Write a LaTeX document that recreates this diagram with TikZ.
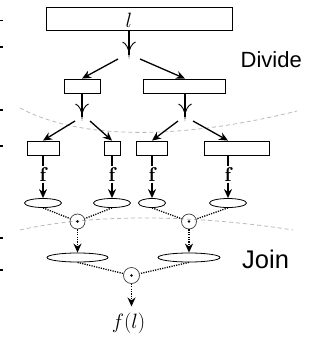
\documentclass[tikz,border=0pt]{standalone}
\usepackage{fontspec}
\newfontfamily\lsans{Liberation Sans}
\usetikzlibrary{arrows.meta,shapes.geometric,calc}
\begin{document}
\begin{tikzpicture}[x=1pt,y=-1pt,
  box/.style={draw, rectangle, line width=0.8pt, minimum height=14pt, inner sep=0pt},
  ell/.style={draw, ellipse, line width=0.8pt, minimum height=9pt, inner sep=0pt},
  joiner/.style={draw=black!75, circle, line width=0.7pt, minimum size=15pt, inner sep=0pt},
  conn/.style={line width=1.3pt, -{Stealth[length=9pt,width=8pt]}},
  stemline/.style={line width=1.2pt},
  dots/.style={line width=1.3pt, dash pattern=on 1.2pt off 1.2pt},
  dotarrow/.style={dots, -{Stealth[length=9pt,width=8pt]}},
  region/.style={gray!55, line width=0.8pt, dash pattern=on 4pt off 3pt},
  mathlab/.style={font=\fontsize{20}{24}\selectfont, inner sep=1pt},
  splitter/.pic={\draw[line width=0.9pt] (-6.5,-13) .. controls (-3,-11.5) and (0,-7) .. (0,0) .. controls (0,-7) and (3,-11.5) .. (6.5,-13);},
  tick/.style={line width=1.1pt}
]
\useasboundingbox (0,0) rectangle (320,337);

% region separators
\draw[region] (20,108) .. controls (80,140) and (180,140) .. (297,111);
\draw[region] (20,230) .. controls (90,214) and (190,214) .. (293,230);

% left edge marks
\foreach \yy in {20.5,47,110,146,238,270} \draw[tick] (0,\yy) -- (2.5,\yy);

% labels
\node[anchor=base west, font=\lsans\fontsize{22}{26}\selectfont, inner sep=0pt] (DV) at (240.5,67) {Divide};
\node[anchor=base west, font=\lsans\fontsize{25.5}{30}\selectfont, inner sep=0pt] (JN) at (242,268) {Join};

% top box
\node[box, minimum width=186pt, minimum height=22.5pt] (B0) at (139,18.75) {};
\node[mathlab] (L) at (129,20) {$l$};
\coordinate (V0) at (129,55);
\draw[stemline] (B0.south -| V0) -- (V0);
\pic at (V0) {splitter};

% level 2
\node[box, minimum width=36pt] (B1) at (82,86) {};
\node[box, minimum width=82pt] (B2) at (184,86) {};
\draw[conn] ($(V0)+(-11,4)$) -- (B1.north);
\draw[conn] ($(V0)+(11,4)$) -- ($(B2.north)+(1,0)$);

\coordinate (V1) at (82,117);
\coordinate (V2) at (185,117);
\draw[stemline] (B1.south -| V1) -- (V1);
\draw[stemline] (B2.south -| V2) -- (V2);
\pic at (V1) {splitter};
\pic at (V2) {splitter};

% level 3
\node[box, minimum width=32pt] (B3a) at (43,148) {};
\node[box, minimum width=16pt] (B3b) at (112,148) {};
\node[box, minimum width=31pt] (B3c) at (152,148) {};
\node[box, minimum width=65pt] (B3d) at (236.5,148) {};

\node[mathlab] (F1) at (43,174.5) {$\mathbf{f}$};
\node[mathlab] (F2) at (112,174.5) {$\mathbf{f}$};
\node[mathlab] (F3) at (152,174.5) {$\mathbf{f}$};
\node[mathlab] (F4) at (228,174.5) {$\mathbf{f}$};

\draw[conn] ($(V1)+(-7,4)$) -- (B3a.north);
\draw[conn] ($(V1)+(8,4)$) -- (B3b.north);
\draw[conn] ($(V2)+(-7,4)$) -- (B3c.north);
\draw[conn] ($(V2)+(8,4)$) -- (B3d.north -| F4);

\foreach \b/\f in {B3a/F1,B3b/F2,B3c/F3,B3d/F4}
  \draw[stemline] (\b.south -| \f) -- (\f.north);

% results
\node[ell, minimum width=37pt] (E1) at (43,203) {};
\node[ell, minimum width=37pt] (E2) at (112,203) {};
\node[ell, minimum width=27pt] (E3) at (152,203) {};
\node[ell, minimum width=37pt] (E4) at (228,203) {};
\foreach \f/\e in {F1/E1,F2/E2,F3/E3,F4/E4}
  \draw[conn] (\f.south) -- (\e.north);

% joins
\node[joiner] (C1) at (77.5,221.5) {};
\node[joiner] (C2) at (189,221.5) {};
\fill (C1) circle (1.4pt);
\fill (C2) circle (1.4pt);
\draw[dots] (E1.south) -- (C1);
\draw[dots] (E2.south) -- (C1);
\draw[dots] (E3.south) -- (C2);
\draw[dots] (E4.south) -- (C2);

\node[ell, minimum width=61pt] (E5) at (77.5,257.5) {};
\node[ell, minimum width=62pt] (E6) at (189,257.5) {};
\draw[dotarrow] (C1.south) -- (E5.north);
\draw[dotarrow] (C2.south) -- (E6.north);

\node[joiner, minimum size=16pt] (C3) at (131.5,275.5) {};
\fill (C3) circle (1.4pt);
\draw[dots] (E5.south) -- (C3);
\draw[dots] (E6.south) -- (C3);

\node[mathlab] (FL) at (128.5,323) {$f(l)$};
\draw[dotarrow, shorten >=5pt] (C3.south) -- (FL.north -| C3);
\end{tikzpicture}
\end{document}
